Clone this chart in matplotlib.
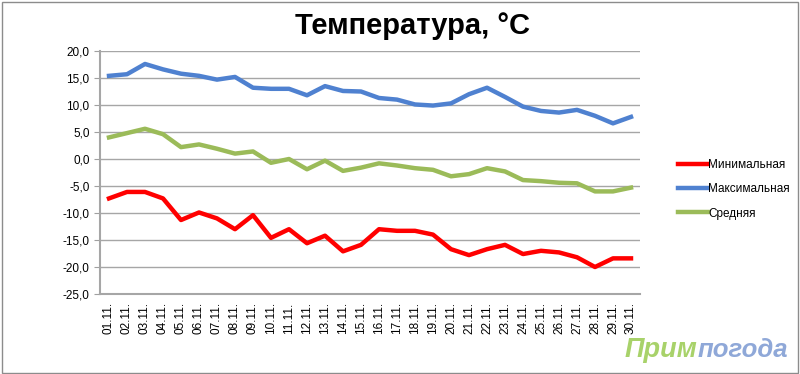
"""
Температура за ноябрь: минимальная, максимальная и средняя.
"""

import matplotlib.pyplot as plt
from matplotlib.patches import Rectangle
from matplotlib.ticker import FuncFormatter

# Data
days = [f"{d:02d}.11." for d in range(1, 31)]
t_min = [-7.3, -6.1, -6.1, -7.3, -11.3, -9.9, -11.0, -13.0, -10.4, -14.6,
         -13.0, -15.6, -14.2, -17.1, -15.9, -13.0, -13.3, -13.3, -14.0, -16.7,
         -17.8, -16.7, -15.9, -17.6, -17.0, -17.3, -18.2, -20.0, -18.4, -18.4]
t_max = [15.4, 15.7, 17.6, 16.6, 15.8, 15.4, 14.7, 15.2, 13.2, 13.0,
         13.0, 11.8, 13.5, 12.6, 12.5, 11.3, 11.0, 10.1, 9.9, 10.3,
         12.0, 13.2, 11.5, 9.7, 8.9, 8.6, 9.1, 8.0, 6.6, 7.8]
t_avg = [4.0, 4.8, 5.6, 4.6, 2.2, 2.7, 1.9, 1.0, 1.4, -0.7,
         0.0, -1.9, -0.3, -2.2, -1.6, -0.8, -1.2, -1.7, -2.0, -3.2,
         -2.8, -1.7, -2.3, -3.9, -4.1, -4.4, -4.5, -6.0, -6.0, -5.3]
series_names = ["Минимальная", "Максимальная", "Средняя"]
colors = ["#ff0000", "#4f81d0", "#9bbb59"]
y_ticks = [20, 15, 10, 5, 0, -5, -10, -15, -20, -25]

plt.rcParams["font.family"] = ["Liberation Sans", "DejaVu Sans"]

fig = plt.figure(figsize=(8, 3.74), dpi=100)
ax = fig.add_axes([0.125, 0.2139, 0.675, 0.6497])

x = range(len(days))
for vals, name, c in zip([t_min, t_max, t_avg], series_names, colors):
    ax.plot(x, vals, color=c, lw=3.2, label=name, solid_joinstyle="round")

ax.set_xlim(-0.5, len(days) - 0.5)
ax.set_ylim(-25, 20)
ax.set_yticks(y_ticks)
ax.yaxis.set_major_formatter(
    FuncFormatter(lambda v, p: f"{v:.1f}".replace(".", ","))
)
ax.set_xticks(list(x))
ax.set_xticklabels(days, rotation=90, fontsize=8.5)
ax.tick_params(axis="y", labelsize=8.5, length=4, color="#a0a0a0")
ax.tick_params(axis="x", length=0, pad=6)
ax.grid(axis="y", color="#a6a6a6", lw=1)
ax.set_axisbelow(True)
for s in ["top", "right"]:
    ax.spines[s].set_visible(False)
for s in ["left", "bottom"]:
    ax.spines[s].set_color("#a6a6a6")
    ax.spines[s].set_linewidth(1.5)

fig.text(0.516, 0.93, "Температура, °С", ha="center", va="center",
         fontsize=21, fontweight="bold")

ax.legend(loc="upper left", bbox_to_anchor=(1.05, 0.60), frameon=False,
          fontsize=8.5, handlelength=2.6, handletextpad=0.0,
          labelspacing=1.05)

# watermark
fig.text(0.872, 0.045, "Прим", ha="right", va="baseline", fontsize=19.5,
         fontweight="bold", style="italic", color="#a8d26a")
fig.text(0.872, 0.045, "погода", ha="left", va="baseline", fontsize=18.5,
         fontweight="bold", style="italic", color="#8fa8d8")

# frame around the figure
fig.patches.append(Rectangle((0.002, 0.004), 0.995, 0.99, transform=fig.transFigure,
                             fill=False, edgecolor="#8c8c8c", lw=1))

fig.savefig("out.png")
